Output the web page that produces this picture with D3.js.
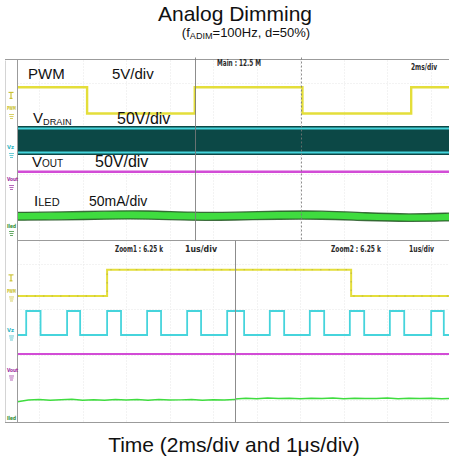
<!DOCTYPE html>
<html>
<head>
<meta charset="utf-8">
<script src="https://cdn.jsdelivr.net/npm/d3@7"></script>
<style>
  html, body { margin: 0; padding: 0; background: #fff; }
  svg { display: block; font-family: "Liberation Sans", Arimo, Arial, sans-serif; }
</style>
</head>
<body>
<svg id="chart" width="449" height="460"></svg>
<script>
// ---------------- data ----------------
// Main window (2 ms/div): PWM edges in ms, levels in V
const mainPwmTimes  = [0, 3.2, 8.15, 13.1, 18.1, 20];
const mainPwmLevels = [2.9, 0, 2.9, 0, 2.9, 2.9];
// VDRAIN switches at ~1 MHz, so the main window shows the envelope (V)
const mainDrainTimes = [0, 20];
const mainDrainLow   = [0, 0];
const mainDrainHigh  = [26.5, 26.5];
// VOUT (V)
const mainVoutTimes  = [0, 20];
const mainVoutLevels = [14, 14];
// ILED mean (mA) and half ripple band (mA)
const mainIledTimes  = [0, 2, 4, 6, 8, 10, 12, 14, 16, 18, 20];
const mainIledMean   = [15.7, 16.0, 17.1, 17.5, 15.4, 15.8, 17.0, 17.3, 15.2, 13.8, 15.0];
const mainIledHalf   = [4.3, 4.4, 4.4, 4.5, 4.4, 4.3, 4.4, 4.5, 4.3, 4.0, 4.3];

// Zoom 1 (1 µs/div, around the PWM rising edge), times in µs
const zoom1PwmTimes    = [0, 2.06, 5];
const zoom1PwmLevels   = [0, 2.9, 2.9];
const zoom1DrainTimes  = [0, 0.2, 0.53, 1.14, 1.44, 2.06, 2.38, 2.98, 3.30, 3.90, 4.22, 4.82, 5];
const zoom1DrainLevels = [0, 26.5, 0, 26.5, 0, 26.5, 0, 26.5, 0, 26.5, 0, 26.5, 26.5];
const zoom1VoutTimes   = [0, 5];
const zoom1VoutLevels  = [23.2, 23.2];
const zoom1IledTimes   = [0, 0.25, 0.5, 0.75, 1, 1.25, 1.5, 1.75, 2, 2.25, 2.5, 2.75, 3, 3.25, 3.5, 3.75, 4, 4.25, 4.5, 4.75, 5];
const zoom1IledLevels  = [23.0, 24.8, 25.3, 24.6, 25.2, 25.6, 24.7, 25.1, 24.5, 25.4, 24.9, 25.3, 24.6, 25.5, 24.8, 25.0, 25.4, 24.7, 25.2, 24.9, 25.3];

// Zoom 2 (1 µs/div, around the PWM falling edge), times in µs
const zoom2PwmTimes    = [0, 2.67, 5];
const zoom2PwmLevels   = [2.9, 0, 0];
const zoom2DrainTimes  = [0, 0.21, 0.80, 1.13, 1.72, 2.05, 2.64, 2.97, 3.56, 3.89, 4.51, 4.80, 5];
const zoom2DrainLevels = [26.5, 0, 26.5, 0, 26.5, 0, 26.5, 0, 26.5, 0, 26.5, 0, 0];
const zoom2VoutTimes   = [0, 5];
const zoom2VoutLevels  = [23.2, 23.2];
const zoom2IledTimes   = [0, 0.25, 0.5, 0.75, 1, 1.25, 1.5, 1.75, 2, 2.25, 2.5, 2.75, 3, 3.25, 3.5, 3.75, 4, 4.25, 4.5, 4.75, 5];
const zoom2IledLevels  = [26.0, 26.8, 26.3, 27.0, 26.4, 26.9, 26.2, 26.7, 26.5, 27.1, 26.3, 26.8, 26.4, 26.6, 27.0, 26.2, 26.8, 26.5, 26.9, 26.3, 26.7];

// Trigger level (V) on PWM
const triggerLevel = 2.0;

// Labels
const channelKeys   = ["PWM", "VDRAIN", "VOUT", "ILED"];
const channelTags   = ["PWM", "Vz", "Vout", "Iled"];
const channelPerDiv = [5, 50, 50, 50];
const windowLabels  = ["Main : 12.5 M", "Zoom1 : 6.25 k", "Zoom2 : 6.25 k"];
const timebaseLabels = ["2ms/div", "1us/div", "1us/div"];

// ---------------- layout ----------------
const W = 449, H = 460;
const scrL = 17.5, scrR = 452.5, scrT = 60.5, scrB = 422.5, split = 240.5, zoomSplit = 235;
const colors = {
  PWM: "#e4de3a", PWMdot: "#a9a34a",
  VDRAIN: "#46d4dc", VDRAINfill: "#0c4846",
  VOUT: "#d24cd6",
  ILED: "#3fdc3f", ILEDedge: "#245524",
  tagPWM: "#c9bf2a", tagVz: "#2fb7c4", tagVout: "#9a2a9e", tagIled: "#2c8a2c",
  frame: "#9b9b9b", cursor: "#7a7a7a", grid: "#e6e6e6"
};
// channel ground positions in screen divisions (0 = bottom, 8 = top)
const mainGround = { PWM: 6.829, VDRAIN: 5.967, VOUT: 5.260, ILED: 4.243 };
const zoomGround = { PWM: 2.796, VDRAIN: 1.934, VOUT: 1.050, ILED: 0.0 };

const svg = d3.select("#chart");
svg.append("rect").attr("width", W).attr("height", H).attr("fill", "#fff");

// scales
const yDiv   = d3.scaleLinear().domain([0, 8]).range([scrB, scrT]);
const xMain  = d3.scaleLinear().domain([0, 20]).range([scrL, scrR]);
const xZoom1 = d3.scaleLinear().domain([0, 5]).range([scrL, zoomSplit]);
const xZoom2 = d3.scaleLinear().domain([0, 5]).range([zoomSplit, scrR]);

const perDiv = {};
channelKeys.forEach((k, i) => perDiv[k] = channelPerDiv[i]);
const yVal = (ground, ch, v) => yDiv(ground[ch] + v / perDiv[ch]);

// clip regions
const defs = svg.append("defs");
function clip(id, x0, y0, x1, y1) {
  defs.append("clipPath").attr("id", id).append("rect")
    .attr("x", x0).attr("y", y0).attr("width", x1 - x0).attr("height", y1 - y0);
  return `url(#${id})`;
}
const clipMain  = clip("cMain", scrL, scrT, W, split);
const clipZoom1 = clip("cZ1", scrL, split, zoomSplit, scrB);
const clipZoom2 = clip("cZ2", zoomSplit, split, W, scrB);

// ---------------- graticule ----------------
const grid = svg.append("g").attr("stroke", colors.grid).attr("stroke-width", 1)
  .attr("stroke-dasharray", "1 2");
d3.range(10).forEach(k => {
  const x = Math.round(scrL + (scrR - scrL) / 10 * (k + 0.5)) + 0.5;
  grid.append("line").attr("x1", x).attr("x2", x).attr("y1", scrT).attr("y2", scrB);
});
d3.range(8).forEach(k => {
  const y = Math.round(yDiv(k + 0.5)) + 0.5;
  grid.append("line").attr("x1", scrL).attr("x2", W).attr("y1", y).attr("y2", y);
});

// ---------------- main window traces ----------------
const gMain = svg.append("g").attr("clip-path", clipMain);

// VDRAIN envelope
const drainArea = d3.area()
  .x((d, i) => xMain(mainDrainTimes[i]))
  .y0((d, i) => yVal(mainGround, "VDRAIN", mainDrainLow[i]))
  .y1((d, i) => yVal(mainGround, "VDRAIN", mainDrainHigh[i]));
gMain.append("path").datum(mainDrainTimes).attr("d", drainArea)
  .attr("fill", colors.VDRAINfill).attr("stroke", colors.VDRAINfill).attr("stroke-width", 5);
[mainDrainLow, mainDrainHigh].forEach(lv => {
  gMain.append("path").datum(mainDrainTimes)
    .attr("d", d3.line().x((d, i) => xMain(mainDrainTimes[i])).y((d, i) => yVal(mainGround, "VDRAIN", lv[i])))
    .attr("fill", "none").attr("stroke", colors.VDRAIN).attr("stroke-width", 2);
});

// VOUT
gMain.append("path").datum(mainVoutTimes)
  .attr("d", d3.line().x((d, i) => xMain(mainVoutTimes[i])).y((d, i) => yVal(mainGround, "VOUT", mainVoutLevels[i])))
  .attr("fill", "none").attr("stroke", colors.VOUT).attr("stroke-width", 2.4);

// ILED ripple band
const iledArea = d3.area().curve(d3.curveBasis)
  .x((d, i) => xMain(mainIledTimes[i]))
  .y0((d, i) => yVal(mainGround, "ILED", mainIledMean[i] - mainIledHalf[i]))
  .y1((d, i) => yVal(mainGround, "ILED", mainIledMean[i] + mainIledHalf[i]));
gMain.append("path").datum(mainIledTimes).attr("d", iledArea).attr("fill", colors.ILED);
[-1, 1].forEach(s => {
  gMain.append("path").datum(mainIledTimes)
    .attr("d", d3.line().curve(d3.curveBasis)
      .x((d, i) => xMain(mainIledTimes[i]))
      .y((d, i) => yVal(mainGround, "ILED", mainIledMean[i] + s * mainIledHalf[i])))
    .attr("fill", "none").attr("stroke", colors.ILEDedge).attr("stroke-width", 1.3)
    .attr("opacity", 0.85);
});

// PWM
gMain.append("path").datum(mainPwmTimes)
  .attr("d", d3.line().curve(d3.curveStepAfter)
    .x((d, i) => xMain(mainPwmTimes[i])).y((d, i) => yVal(mainGround, "PWM", mainPwmLevels[i])))
  .attr("fill", "none").attr("stroke", colors.PWM).attr("stroke-width", 2.4);

// ---------------- zoom window traces ----------------
function drawZoom(clipUrl, xs, d) {
  const g = svg.append("g").attr("clip-path", clipUrl);
  const lineOf = (t, v, ch, curve) => d3.line().curve(curve || d3.curveLinear)
    .x((p, i) => xs(t[i])).y((p, i) => yVal(zoomGround, ch, v[i]));
  g.append("path").datum(d.voutT).attr("d", lineOf(d.voutT, d.voutV, "VOUT"))
    .attr("fill", "none").attr("stroke", colors.VOUT).attr("stroke-width", 2);
  g.append("path").datum(d.iledT).attr("d", lineOf(d.iledT, d.iledV, "ILED"))
    .attr("fill", "none").attr("stroke", colors.ILED).attr("stroke-width", 1.5);
  g.append("path").datum(d.drainT).attr("d", lineOf(d.drainT, d.drainV, "VDRAIN", d3.curveStepAfter))
    .attr("fill", "none").attr("stroke", colors.VDRAIN).attr("stroke-width", 1.8);
  g.append("path").datum(d.pwmT).attr("d", lineOf(d.pwmT, d.pwmV, "PWM", d3.curveStepAfter))
    .attr("fill", "none").attr("stroke", colors.PWM).attr("stroke-width", 2);
  g.append("path").datum(d.pwmT).attr("d", lineOf(d.pwmT, d.pwmV, "PWM", d3.curveStepAfter))
    .attr("fill", "none").attr("stroke", colors.PWMdot).attr("stroke-width", 1.2)
    .attr("stroke-dasharray", "1.5 7").attr("opacity", 0.6);
}
drawZoom(clipZoom1, xZoom1, {
  pwmT: zoom1PwmTimes, pwmV: zoom1PwmLevels, drainT: zoom1DrainTimes, drainV: zoom1DrainLevels,
  voutT: zoom1VoutTimes, voutV: zoom1VoutLevels, iledT: zoom1IledTimes, iledV: zoom1IledLevels
});
drawZoom(clipZoom2, xZoom2, {
  pwmT: zoom2PwmTimes, pwmV: zoom2PwmLevels, drainT: zoom2DrainTimes, drainV: zoom2DrainLevels,
  voutT: zoom2VoutTimes, voutV: zoom2VoutLevels, iledT: zoom2IledTimes, iledV: zoom2IledLevels
});

// ---------------- frame and cursors ----------------
const frame = svg.append("g").attr("stroke", colors.frame).attr("stroke-width", 1).attr("fill", "none");
frame.append("line").attr("x1", 5.5).attr("x2", 5.5).attr("y1", scrT).attr("y2", scrB).attr("stroke", "#d4d4d4");
frame.append("line").attr("x1", scrL).attr("x2", scrL).attr("y1", scrT - 1).attr("y2", scrB);
frame.append("line").attr("x1", 5).attr("x2", W).attr("y1", scrT - 1).attr("y2", scrT - 1);
frame.append("line").attr("x1", scrL).attr("x2", W).attr("y1", split).attr("y2", split);
frame.append("line").attr("x1", 5).attr("x2", W).attr("y1", scrB).attr("y2", scrB);

// zoom positions in the main window, and the split between the two zoom windows
const xc1 = Math.round(xMain(mainPwmTimes[2])) + 0.5;
const xc2 = Math.round(xMain(mainPwmTimes[3])) - 0.5;
svg.append("line").attr("x1", xc1).attr("x2", xc1).attr("y1", scrT - 3).attr("y2", split)
  .attr("stroke", colors.cursor).attr("stroke-width", 1).attr("opacity", 0.85);
svg.append("line").attr("x1", xc2).attr("x2", xc2).attr("y1", scrT - 3).attr("y2", split)
  .attr("stroke", colors.cursor).attr("stroke-width", 1).attr("stroke-dasharray", "2 2").attr("opacity", 0.85);
svg.append("line").attr("x1", zoomSplit + 0.5).attr("x2", zoomSplit + 0.5).attr("y1", split).attr("y2", scrB)
  .attr("stroke", "#8c8c8c").attr("stroke-width", 1);

// ---------------- left strip: trigger marker, channel tags, ground markers ----------------
const tagColors = [colors.tagPWM, colors.tagVz, colors.tagVout, colors.tagIled];
function channelStrip(ground) {
  const g = svg.append("g");
  channelKeys.forEach((k, i) => {
    const yg = yDiv(ground[k]);
    g.append("text").attr("x", 7).attr("y", yg - 3)
      .attr("font-family", "'DejaVu Sans Condensed', 'DejaVu Sans', sans-serif")
      .attr("font-size", 5.5).attr("font-weight", "bold").attr("fill", tagColors[i])
      .attr("textLength", k === "VOUT" ? 11 : (k === "VDRAIN" ? 7 : 9)).attr("lengthAdjust", "spacingAndGlyphs")
      .text(channelTags[i]);
    if (yg < scrB - 4) {
      const m = g.append("g").attr("stroke", tagColors[i]).attr("stroke-width", 0.9).attr("opacity", 0.8);
      [0, 2, 4].forEach((dy, j) => m.append("line")
        .attr("x1", 9 + j * 0.5).attr("x2", 14 - j * 0.5).attr("y1", yg + 1 + dy).attr("y2", yg + 1 + dy));
    }
  });
  // trigger level on PWM
  const yt = yDiv(ground.PWM + triggerLevel / perDiv.PWM);
  const t = g.append("g").attr("stroke", colors.tagPWM).attr("stroke-width", 1.1);
  t.append("line").attr("x1", 8.5).attr("x2", 13.5).attr("y1", yt - 3).attr("y2", yt - 3);
  t.append("line").attr("x1", 11).attr("x2", 11).attr("y1", yt - 3).attr("y2", yt + 3);
  t.append("line").attr("x1", 9.5).attr("x2", 12.5).attr("y1", yt + 3).attr("y2", yt + 3);
}
channelStrip(mainGround);
channelStrip(zoomGround);

// ---------------- window headers ----------------
const hdrFont = "'DejaVu Sans Condensed', 'Liberation Sans Narrow', sans-serif";
const headers = [
  { text: windowLabels[0], x: 217, y: 66, w: 44 },
  { text: timebaseLabels[0], x: 411, y: 70, w: 26 },
  { text: windowLabels[1], x: 115, y: 251.5, w: 48 },
  { text: timebaseLabels[1], x: 185, y: 252, w: 32 },
  { text: windowLabels[2], x: 331, y: 251.5, w: 50 },
  { text: timebaseLabels[2], x: 409, y: 252, w: 25 }
];
svg.append("g").selectAll("text").data(headers).join("text")
  .attr("x", d => d.x).attr("y", d => d.y).attr("font-family", hdrFont)
  .attr("font-size", 8).attr("font-weight", "bold").attr("fill", "#2a2a2a")
  .attr("textLength", d => d.w).attr("lengthAdjust", "spacingAndGlyphs")
  .text(d => d.text);

// ---------------- channel annotations ----------------
const ann = svg.append("g").attr("fill", "#111");
function label(x, y, parts) {
  const t = ann.append("text").attr("x", x).attr("y", y);
  parts.forEach(p => {
    const s = t.append("tspan").attr("font-size", p.size).text(p.text);
    if (p.dy) s.attr("dy", p.dy);
  });
}
label(28, 79, [{ text: "PWM", size: 15 }]);
label(112, 79, [{ text: "5V/div", size: 15 }]);
label(33, 123, [{ text: "V", size: 15 }, { text: "DRAIN", size: 9.2, dy: 2 }]);
label(117, 123.5, [{ text: "50V/div", size: 16 }]);
label(32, 167, [{ text: "V", size: 15 }, { text: "OUT", size: 10 }]);
label(95, 167, [{ text: "50V/div", size: 16 }]);
label(34, 206, [{ text: "I", size: 15 }, { text: "LED", size: 11 }]);
label(89, 206, [{ text: "50mA/div", size: 14 }]);

// ---------------- titles ----------------
svg.append("text").attr("x", 235).attr("y", 21).attr("text-anchor", "middle")
  .attr("font-size", 21).attr("fill", "#111").text("Analog Dimming");
const sub = svg.append("text").attr("x", 246).attr("y", 37).attr("text-anchor", "middle")
  .attr("font-size", 13).attr("fill", "#111");
sub.append("tspan").text("(f");
sub.append("tspan").attr("font-size", 9.1).attr("dy", 2).text("ADIM");
sub.append("tspan").attr("dy", -2).text("=100Hz, d=50%)");
svg.append("text").attr("x", 234).attr("y", 452).attr("text-anchor", "middle")
  .attr("font-size", 21).attr("fill", "#111").text("Time (2ms/div and 1μs/div)");
</script>
</body>
</html>
